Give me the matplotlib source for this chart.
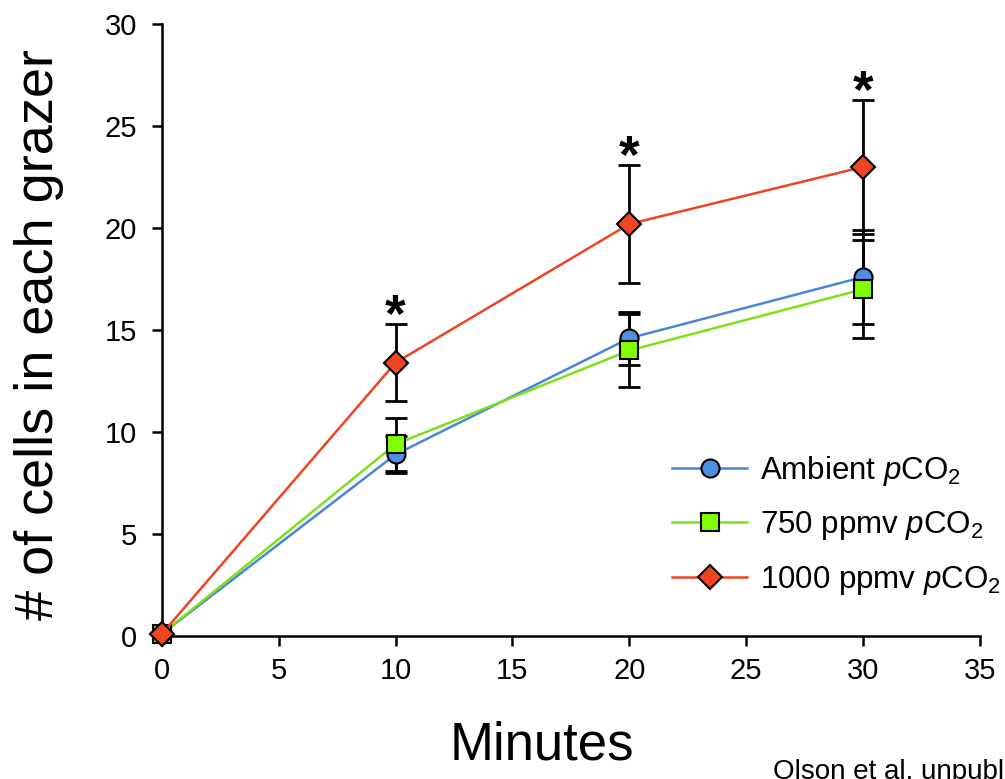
import matplotlib
matplotlib.use("Agg")
import matplotlib.pyplot as plt

plt.rcParams['font.family'] = ['Liberation Sans', 'DejaVu Sans']
plt.rcParams['mathtext.fontset'] = 'custom'
plt.rcParams['mathtext.rm'] = 'Liberation Sans'
plt.rcParams['mathtext.it'] = 'Liberation Sans:italic'

minutes = [0, 10, 20, 30]
ambient = [0.1, 8.9, 14.6, 17.6]
ambient_err = [0.0, 0.9, 1.3, 2.3]
ppm750 = [0.1, 9.4, 14.0, 17.0]
ppm750_err = [0.0, 1.3, 1.8, 2.4]
ppm1000 = [0.1, 13.4, 20.2, 23.0]
ppm1000_err = [0.0, 1.9, 2.9, 3.3]
signif_x = [10, 20, 30]

labels = ['Ambient $\\it{p}$CO$_2$', '750 ppmv $\\it{p}$CO$_2$', '1000 ppmv $\\it{p}$CO$_2$']

fig = plt.figure(figsize=(10.05, 7.79), dpi=100)
ax = fig.add_axes([0.161, 0.1836, 0.814, 0.7854])

series = [
    (ambient, ambient_err, '#4a86d6', '#4f8fe0', 'o', 13),
    (ppm750, ppm750_err, '#7fe01a', '#80ff00', 's', 13),
    (ppm1000, ppm1000_err, '#ee4422', '#f04422', 'D', 12.5),
]
handles = []
for i, (vals, errs, lc, fc, mk, ms) in enumerate(series):
    ax.errorbar(minutes, vals, yerr=errs, fmt='none', ecolor='black',
                elinewidth=2, capsize=8, capthick=2, zorder=2 + i * 0.1)
    h, = ax.plot(minutes, vals, color=lc, lw=1.8, marker=mk, markersize=ms,
                 markerfacecolor=fc, markeredgecolor='black', markeredgewidth=1.5,
                 zorder=3 + i, clip_on=False)
    handles.append(h)

for x, v, e in zip(signif_x, ppm1000[1:], ppm1000_err[1:]):
    ax.annotate('*', xy=(x, v + e), xytext=(0, -6), textcoords='offset points',
                ha='center', va='baseline', fontsize=38, fontweight='bold')

ax.set_xlim(0, 35)
ax.set_ylim(0, 30)
ax.set_xticks(range(0, 36, 5))
ax.set_yticks(range(0, 31, 5))
for s in ['top', 'right']:
    ax.spines[s].set_visible(False)
for s in ['left', 'bottom']:
    ax.spines[s].set_linewidth(1.8)
ax.tick_params(direction='out', length=7, width=1.8, labelsize=21)
ax.tick_params(axis='y', pad=11)
ax.tick_params(axis='x', pad=8)

ax.set_xlabel('Minutes', fontsize=38, va='baseline')
ax.xaxis.set_label_coords(0.4645, -0.2026)
ax.set_ylabel('# of cells in each grazer', fontsize=39, va='baseline')
ax.yaxis.set_label_coords(-0.1333, 0.4935)

leg = ax.legend(handles, labels, loc='upper left', bbox_to_anchor=(0.624, 0.298),
                frameon=False, fontsize=22.5, handlelength=2.4, handletextpad=0.4,
                labelspacing=0.69, borderaxespad=0, borderpad=0)

fig.text(773 / 1005, 0.0, 'Olson et al. unpublished', fontsize=20,
         ha='left', va='baseline')

fig.savefig('out.png', dpi=100)
